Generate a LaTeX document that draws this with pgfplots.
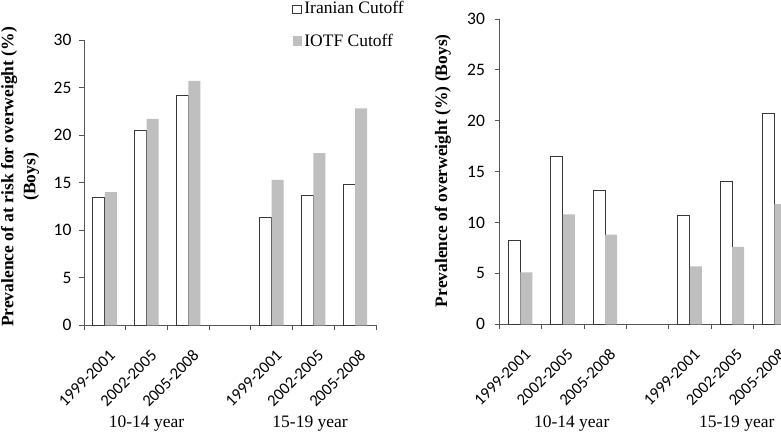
\documentclass[border=0pt]{standalone}
\usepackage{pgfplots}
\pgfplotsset{compat=1.18}
\usepackage{fontspec}
\setmainfont{Liberation Serif}
\newfontfamily\carlito{Carlito}
\definecolor{barGray}{RGB}{191,191,191}
\definecolor{axGray}{RGB}{85,85,85}
\definecolor{edge}{RGB}{55,55,55}

\pgfplotsset{
 myaxis/.style={
  scale only axis, anchor=south west,
  xmin=-0.5, xmax=6.5, ymin=0, ymax=30,
  axis x line*=bottom, axis y line*=left,
  axis line style={axGray, line width=0.8pt, -},
  ytick={0,5,...,30},
  xtick={-0.5,0.5,...,6.5}, xticklabels={},
  tick align=outside, major tick length=4.5pt,
  tick style={axGray, line width=0.8pt},
  extra x ticks={0,1,2,4,5,6},
  extra x tick labels={1999-2001,2002-2005,2005-2008,1999-2001,2002-2005,2005-2008},
  extra x tick style={major tick length=0pt, xticklabel shift=23.5pt,
    xticklabel style={rotate=45, anchor=north east, inner sep=0pt, xshift=2.5pt, yshift=-2.5pt,
      font=\carlito\fontsize{16.5}{18}\selectfont}},
  yticklabel style={font=\carlito\fontsize{17.5}{20}\selectfont,
    /pgf/number format/assume math mode=true},
  ybar=0pt, bar width=12pt,
  clip=false,
  ylabel style={font=\bfseries\fontsize{17.5}{22}\selectfont, align=center, anchor=center},
 },
 whiteleg/.style={legend image code/.code={\draw[edge, fill=white, line width=0.8pt] (0pt,0pt) rectangle (8.5pt,8.5pt);}},
 grayleg/.style={legend image code/.code={\fill[barGray] (0pt,0pt) rectangle (9pt,10pt);}},
}

\begin{document}
\begin{tikzpicture}
\clip (0,0) rectangle (781pt,432pt);
% Left chart
\begin{axis}[myaxis,
  at={(84pt,106.7pt)}, width=292pt, height=285.3pt,
  yticklabel style={xshift=-4.5pt},
  ylabel={Prevalence of at risk for overweight (\%)\\(Boys)},
  ylabel style={at={(axis description cs:-0.219,0.52)}},
  legend style={at={(axis description cs:0.712,1.1367)}, anchor=north west,
    draw=none, fill=none, inner sep=0pt, row sep=19pt,
    font=\fontsize{17.5}{21}\selectfont,
    nodes={inner sep=0pt, anchor=base west}},
  legend cell align=left,
]
\addplot[fill=white, draw=edge, line width=0.8pt, whiteleg]
  coordinates {(0,13.5) (1,20.5) (2,24.2) (4,11.3) (5,13.7) (6,14.8)};
\addlegendentry{\,Iranian Cutoff}
\addplot[fill=barGray, draw=none, grayleg]
  coordinates {(0,14.0) (1,21.7) (2,25.7) (4,15.3) (5,18.1) (6,22.8)};
\addlegendentry{\,IOTF Cutoff}
\node[anchor=base, font=\fontsize{17.5}{21}\selectfont] at ([yshift=-101.7pt]axis cs:1,0) {10-14 year};
\node[anchor=base, font=\fontsize{17.5}{21}\selectfont] at ([yshift=-101.7pt]axis cs:4.92,0) {15-19 year};
\end{axis}
% Right chart
\begin{axis}[myaxis,
  at={(499.3pt,107.7pt)}, width=296.3pt, height=305.3pt,
  yticklabel style={xshift=-6.3pt},
  ylabel={Prevalence of overweight (\%) (Boys)},
  ylabel style={at={(axis description cs:-0.19,0.503)}},
]
\addplot[fill=white, draw=edge, line width=0.8pt]
  coordinates {(0,8.2) (1,16.5) (2,13.2) (4,10.7) (5,14.0) (6,20.7)};
\addplot[fill=barGray, draw=none]
  coordinates {(0,5.1) (1,10.8) (2,8.8) (4,5.7) (5,7.6) (6,11.8)};
\node[anchor=base, font=\fontsize{17.5}{21}\selectfont] at ([yshift=-102.7pt]axis cs:1.21,0) {10-14 year};
\node[anchor=base, font=\fontsize{17.5}{21}\selectfont] at ([yshift=-102.7pt]axis cs:5.11,0) {15-19 year};
\end{axis}
\end{tikzpicture}
\end{document}
